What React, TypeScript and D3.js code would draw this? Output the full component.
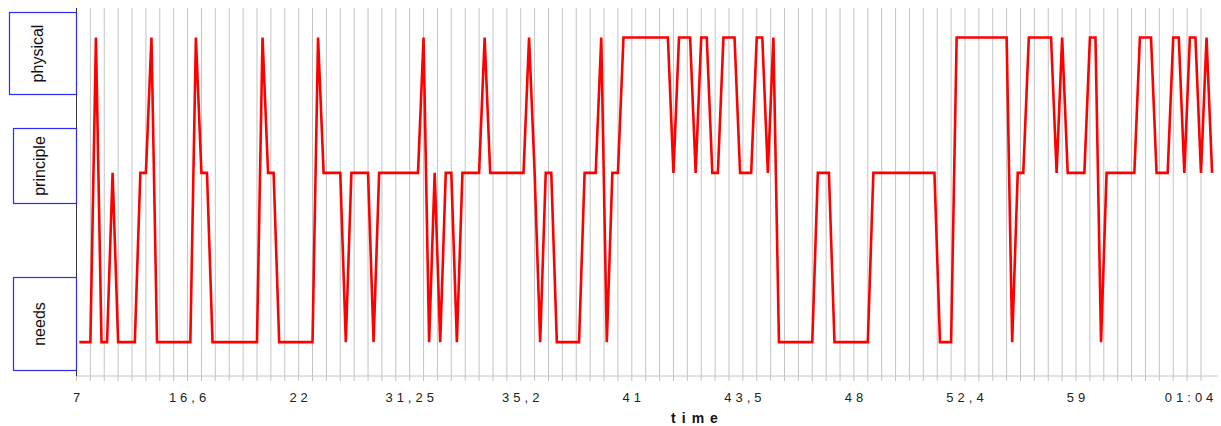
import * as d3 from "d3"

// levels on the vertical (symbolic) axis and their axis values
const levelNames = ["needs", "principle", "physical"]
const levelValues = [0, 5, 9]

// state sequence, as runs of (level, count)
const runLevels = [
  "needs", "physical", "needs", "principle", "needs", "principle", "physical", "needs",
  "physical", "principle", "needs", "physical", "principle", "needs", "physical", "principle",
  "needs", "principle", "needs", "principle", "physical", "needs", "principle", "needs",
  "principle", "needs", "principle", "physical", "principle", "physical", "principle", "needs",
  "principle", "needs", "principle", "physical", "needs", "principle", "physical", "principle",
  "physical", "principle", "physical", "principle", "physical", "principle", "physical", "principle",
  "physical", "needs", "principle", "needs", "principle", "needs", "physical", "needs",
  "principle", "physical", "principle", "physical", "principle", "physical", "needs", "principle",
  "physical", "principle", "physical", "principle", "physical", "principle", "physical", "principle",
]
const runLengths = [
  3, 1, 2, 1, 4, 2, 1, 7,
  1, 2, 9, 1, 2, 7, 1, 4,
  1, 4, 1, 8, 1, 1, 1, 1,
  2, 1, 4, 1, 7, 1, 1, 1,
  2, 5, 3, 1, 1, 2, 9, 1,
  3, 1, 2, 2, 3, 3, 2, 1,
  1, 7, 3, 7, 12, 3, 10, 1,
  2, 5, 1, 1, 4, 2, 1, 6,
  3, 3, 2, 1, 2, 1, 1, 1,
]

// tick labels every 20 samples
const tickLabels = ["7", "16,6", "22", "31,25", "35,2", "41", "43,5", "48", "52,4", "59", "01:04"]
const tickEvery = 20
const gridEvery = 2.5

const states: string[] = []
runLevels.forEach((lv, k) => {
  for (let j = 0; j < runLengths[k]; j++) states.push(lv)
})

const W = 1221
const H = 426
const margin = { left: 76.5, top: 8, bottom: 376 }
const step = 5.553
const FONT = "'Liberation Sans', Arial, sans-serif"
const LS = 4

// label boxes on the y axis, in axis units
const boxes = [
  { name: "physical", from: 7.32, to: 9.73, left: 9 },
  { name: "principle", from: 4.11, to: 6.3, left: 13 },
  { name: "needs", from: -0.84, to: 1.895, left: 13 },
]

const crisp = (v: number) => Math.round(v - 0.5) + 0.5

export default function App() {
  const n = states.length
  const right = margin.left + n * step
  const x = d3.scaleLinear().domain([0, n]).range([margin.left, right])
  const y = d3.scaleLinear().domain([-1, 9.87]).range([margin.bottom, margin.top])
  const valueOf = (s: string) => levelValues[levelNames.indexOf(s)]

  const line = d3
    .line<string>()
    .x((_, i) => x(i + 0.5))
    .y((s) => y(valueOf(s)))

  const grid = d3.range(0, n, gridEvery)

  return (
    <svg width={W} height={H} style={{ position: "absolute", left: 0, top: 0, background: "#fff" }}>
      <rect width={W} height={H} fill="#fff" />
      {grid.map((g) => (
        <line key={g} x1={x(g)} x2={x(g)} y1={margin.top} y2={margin.bottom + 5} stroke="#c4c4c4" strokeWidth={1} />
      ))}
      <line x1={margin.left} x2={right + 3} y1={margin.bottom} y2={margin.bottom} stroke="#c4c4c4" />
      <line x1={margin.left} x2={margin.left} y1={margin.top} y2={margin.bottom} stroke="#333" />

      {boxes.map((b) => {
        const y0 = crisp(y(b.to))
        const y1 = crisp(y(b.from))
        const x0 = b.left + 0.5
        const cx = (b.left + margin.left) / 2
        const cy = (y0 + y1) / 2
        return (
          <g key={b.name}>
            <rect x={x0} y={y0} width={margin.left - x0} height={y1 - y0} fill="none" stroke="#2d2df5" strokeWidth={1.2} />
            <text
              transform={`translate(${cx},${cy}) rotate(-90)`}
              textAnchor="middle"
              fontFamily={FONT}
              fontSize={16}
              fill="#111"
            >
              {b.name}
            </text>
          </g>
        )
      })}

      <path d={line(states) || ""} fill="none" stroke="#ff0000" strokeWidth={2.6} strokeLinejoin="miter" />

      {tickLabels.map((t, k) => {
        const px = x(k * tickEvery)
        const last = k === tickLabels.length - 1
        return (
          <text
            key={t}
            x={last ? right + LS - 1.5 : px + LS / 2}
            y={402}
            textAnchor={last ? "end" : "middle"}
            fontFamily={FONT}
            fontSize={13}
            letterSpacing={LS}
            fill="#222"
          >
            {t}
          </text>
        )
      })}

      <text x={694.5 + 3} y={423} textAnchor="middle" fontFamily={FONT} fontSize={14} fontWeight="bold" letterSpacing={6} fill="#111">
        time
      </text>
    </svg>
  )
}
